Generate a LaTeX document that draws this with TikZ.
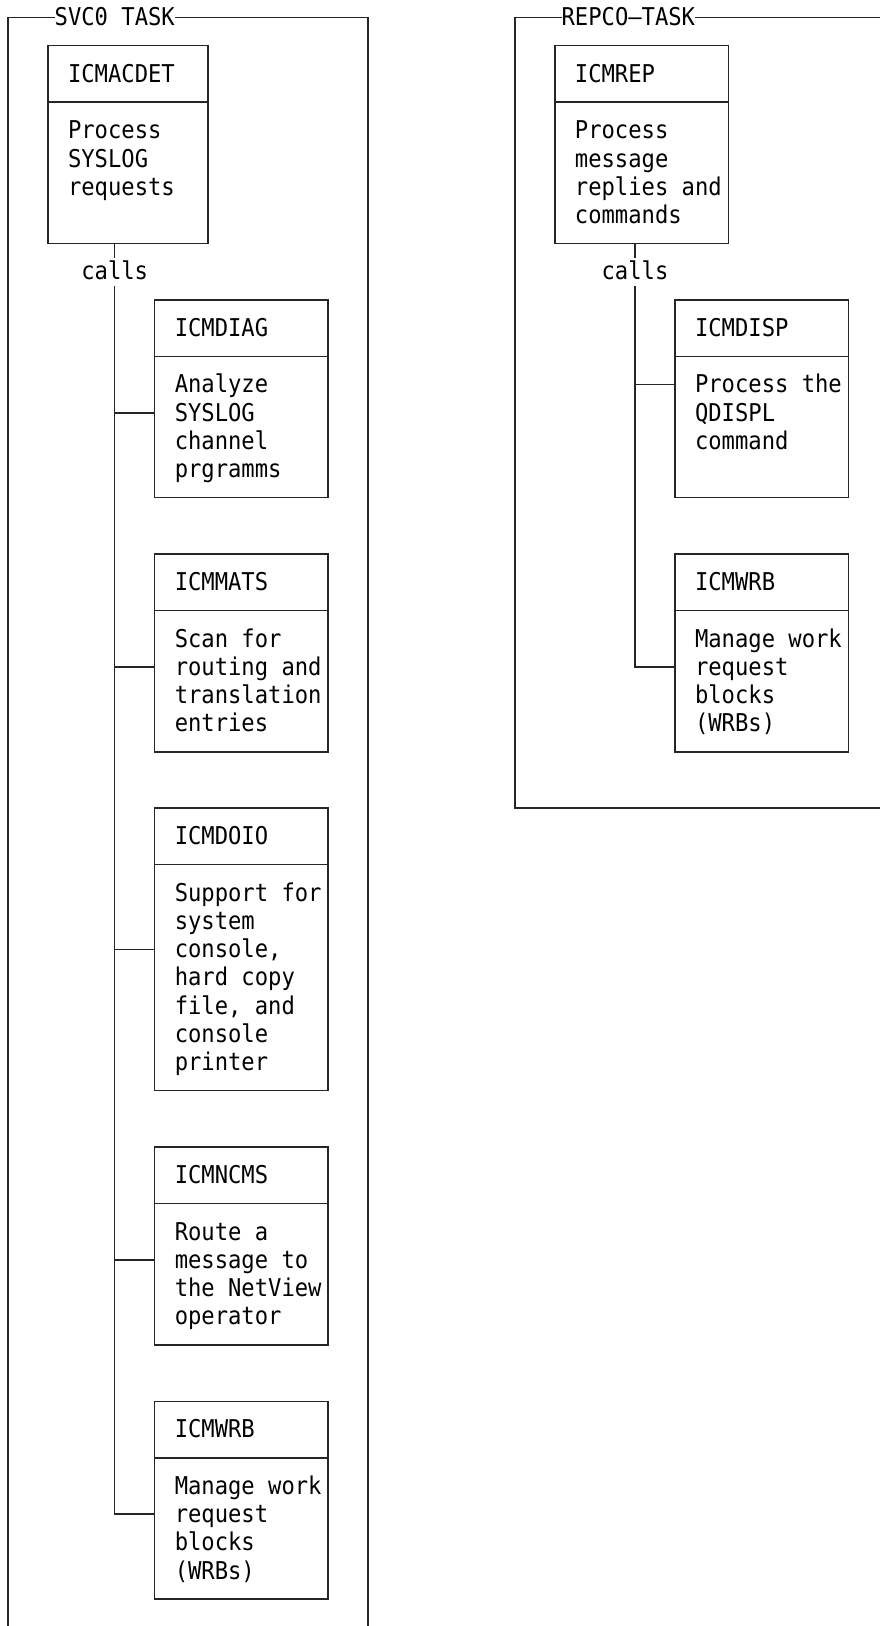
\documentclass[tikz,border=0pt]{standalone}
\usepackage{fontspec}
% Narrowed monospace face so that one character cell is 13.34pt wide
\newfontfamily\chartfont[FakeStretch=0.905]{DejaVu Sans Mono}
\newcommand\glyphs{\chartfont\fontsize{24.5pt}{28.24pt}\selectfont}
% top of the first text row, measured from its baseline
\newcommand\cellstrut{\rule{0pt}{22.42pt}}
\definecolor{ink}{HTML}{262626}

% \module{name}{top-left cell}{width}{text width}{body height}{title}{description}
\newcommand\module[7]{%
  \node[hdr, minimum width=#3, text width=#4] (#1) at #2 {#6};
  \node[bodybox, minimum width=#3, minimum height=#5] (#1b) at (#1.south west) {};
  \node[bodytext] (#1d) at ([shift={(1.5,0.5)}]#1b.north west) {\cellstrut #7};
}

\begin{document}
\begin{tikzpicture}[
  x=13.34pt, y=-28.24pt,
  frame/.style={draw=ink, line width=1.5pt},
  wire/.style={draw=ink, line width=1.5pt},
  cell/.style={inner sep=0pt, outer sep=0pt, text height=22.42pt, text depth=5.82pt,
               font=\glyphs, text=black},
  hdr/.style={draw=ink, line width=1.5pt, anchor=north west, inner xsep=20.01pt,
              inner ysep=0pt, outer sep=0pt, minimum height=56.48pt,
              text height=22.42pt, text depth=5.82pt, align=left, font=\glyphs},
  bodybox/.style={draw=ink, line width=1.5pt, anchor=north west, inner sep=0pt,
                  outer sep=0pt},
  bodytext/.style={anchor=north west, inner sep=0pt, outer sep=0pt, align=left,
                   font=\glyphs},
]
\useasboundingbox[fill=white] (-8pt,17.5pt) rectangle (871pt,-1608.5pt);

% ---- SVC0 task frame ----
\draw[frame] (0,57) -- (0,0) -- (27,0) -- (27,57);
\node[cell, fill=white, anchor=west] (svctitle) at (3.5,0) {SVC0 TASK};

\module{acdet}{(3,1)}{160.08pt}{120.06pt}{141.2pt}{ICMACDET}{Process\\SYSLOG\\requests}
\module{diag}{(11,10)}{173.42pt}{133.4pt}{141.2pt}{ICMDIAG}{Analyze\\SYSLOG\\channel\\prgramms}
\module{mats}{(11,19)}{173.42pt}{133.4pt}{141.2pt}{ICMMATS}{Scan for\\routing and\\translation\\entries}
\module{doio}{(11,28)}{173.42pt}{133.4pt}{225.92pt}{ICMDOIO}{Support for\\system\\console,\\hard copy\\file, and\\console\\printer}
\module{ncms}{(11,40)}{173.42pt}{133.4pt}{141.2pt}{ICMNCMS}{Route a\\message to\\the NetView\\operator}
\module{wrbl}{(11,49)}{173.42pt}{133.4pt}{141.2pt}{ICMWRB}{Manage work\\request\\blocks\\(WRBs)}

\node[cell] (callsl) at (8,9) {calls};
\draw[wire] (callsl |- acdetb.south) -- (callsl.north);
\coordinate (ldiag) at (8,14);
\coordinate (lmats) at (8,23);
\coordinate (ldoio) at (8,33);
\coordinate (lncms) at (8,44);
\coordinate (lend)  at (8,53);
\draw[wire] (callsl.south) -- (lend) -- (lend -| wrblb.west);
\draw[wire] (ldiag) -- (ldiag -| diagb.west);
\draw[wire] (lmats) -- (lmats -| matsb.west);
\draw[wire] (ldoio) -- (ldoio -| doiob.west);
\draw[wire] (lncms) -- (lncms -| ncmsb.west);

% ---- REPCO task frame ----
\draw[frame] (66,0) -- (38,0) -- (38,28) -- (66,28);
\node[cell, fill=white, anchor=west] (reptitle) at (41.5,0) {REPCO—TASK};

\module{rep}{(41,1)}{173.42pt}{133.4pt}{141.2pt}{ICMREP}{Process\\message\\replies and\\commands}
\module{disp}{(50,10)}{173.42pt}{133.4pt}{141.2pt}{ICMDISP}{Process the\\QDISPL\\command}
\module{wrbr}{(50,19)}{173.42pt}{133.4pt}{141.2pt}{ICMWRB}{Manage work\\request\\blocks\\(WRBs)}

\node[cell] (callsr) at (47,9) {calls};
\draw[wire] (callsr |- repb.south) -- (callsr.north);
\coordinate (rdisp) at (47,13);
\coordinate (rend)  at (47,23);
\draw[wire] (callsr.south) -- (rend) -- (rend -| wrbrb.west);
\draw[wire] (rdisp) -- (rdisp -| dispb.west);
\end{tikzpicture}
\end{document}
